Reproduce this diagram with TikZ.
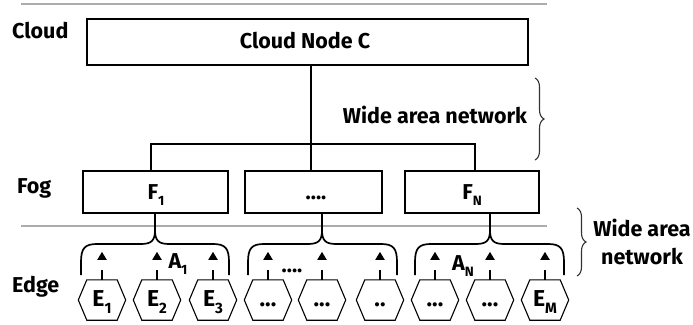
\documentclass[tikz,border=0pt]{standalone}
\usepackage{fontspec}
\setmainfont{Fira Sans}
\usetikzlibrary{arrows.meta,decorations.pathreplacing,calc}
\newcommand{\sbs}[1]{\raisebox{-0.55ex}{\fontsize{13.5}{13.5}\selectfont #1}}
\newcommand{\hsb}[1]{\raisebox{-0.6ex}{\fontsize{15}{15}\selectfont #1}}
\newcommand{\hdthree}{...}
\newcommand{\hdtwo}{..}
\begin{document}
\begin{tikzpicture}[x=1pt,y=-1pt,
  every node/.style={font=\bfseries\fontsize{21.5}{25}\selectfont, inner sep=0pt},
  box/.style={draw, line width=1.8pt},
  wire/.style={line width=1.7pt},
  rule/.style={draw=gray!65, line width=1.1pt},
  hexbox/.style={minimum width=47pt, minimum height=40pt},
  hexline/.style={line width=1.1pt},
  hexlab/.style={anchor=base, font=\bfseries\fontsize{23}{25}\selectfont},
  arr/.style={line width=1.9pt, dash pattern=on 10pt off 10pt, -{Triangle[width=9pt,length=8pt]}},
  brc/.style={draw=black!80, line width=1.1pt, decorate, decoration={brace, amplitude=9pt}},
  lab/.style={anchor=base}]
\useasboundingbox (0,0) rectangle (693,324);
% rules
\coordinate (r1a) at (21,4); \coordinate (r1b) at (547,4);
\coordinate (r2a) at (21,226); \coordinate (r2b) at (547,226);
\draw[rule] (r1a) -- (r1b);
\draw[rule] (r2a) -- (r2b);
% layer labels
\node[anchor=base west] (lcloud) at (12,38) {Cloud};
\node[anchor=base west] (lfog) at (17,193) {Fog};
\node[anchor=base west] (ledge) at (12,292) {Edge};
% cloud
\node[box, minimum width=441pt, minimum height=46pt] (cloud) at (307.5,42) {};
\node[lab] (cloudtxt) at (305,48) {Cloud Node C};
% fog boxes
\node[box, minimum width=145pt, minimum height=42pt] (f1) at (155.5,192) {};
\node[box, minimum width=137pt, minimum height=42pt] (fm) at (313.5,192) {};
\node[box, minimum width=134pt, minimum height=42pt] (fn) at (472,192) {};
\node[lab] (f1t) at (156,199) {F\sbs{1}};
\node[lab] (fmt) at (316,199) {....};
\node[lab] (fnt) at (472,199) {F\sbs{N}};
% bus
\coordinate (busC) at (311,144);
\coordinate (busL) at (151,144);
\coordinate (busR) at (475,144);
\draw[wire] (cloud.south -| busC) -- (fm.north -| busC);
\draw[wire] (f1.north -| busL) -- (busL) -- (busR) -- (fn.north -| busR);
% wide area network 1
\coordinate (b1a) at (535,78); \coordinate (b1b) at (535,160);
\draw[brc] (b1a) -- (b1b);
\node (wan1) at (435,115) {Wide area network};
% wide area network 2
\coordinate (b2a) at (577,208); \coordinate (b2b) at (577,276);
\draw[brc] (b2a) -- (b2b);
\node[align=center, font=\bfseries\fontsize{21.5}{28}\selectfont] (wan2) at (642,242) {Wide area\\network};
% group brackets
\foreach \cx/\lx/\rx/\f in {155/81/229/f1, 322/248/397/fm, 490/415/564/fn}{
  \coordinate (cusp\f) at (\cx,230);
  \draw[wire] (\f.south -| cusp\f) -- (cusp\f);
  \draw[wire] (\lx,275) -- (\lx,262) .. controls (\lx,248) and ({\lx+4},244) .. ({\lx+16},244)
     -- ({\cx-14},244) .. controls ({\cx-3},244) and (\cx,240) .. (cusp\f)
     .. controls (\cx,240) and ({\cx+3},244) .. ({\cx+14},244)
     -- ({\rx-16},244) .. controls ({\rx-4},244) and (\rx,248) .. (\rx,262) -- (\rx,275);
}
% group labels
\node (a1) at (178,264) {A\sbs{1}};
\node[lab] (adots) at (292,272) {....};
\node (an) at (463,266) {A\sbs{N}};
% hexagons
\foreach \n/\x/\t in {h1/102/E\hsb{1}, h2/157/E\hsb{2}, h3/213/E\hsb{3}, h4/268/\hdthree, h5/322/\hdthree, h6/380/\hdtwo, h7/435/\hdthree, h8/490/\hdthree, h9/545/E\hsb{M}}{
  \node[hexbox] (\n) at (\x,300) {};
  \draw[hexline] (\n.west) -- ([xshift=8.5pt]\n.north west) -- ([xshift=-8.5pt]\n.north east) -- (\n.east)
     -- ([xshift=-8.5pt]\n.south east) -- ([xshift=8.5pt]\n.south west) -- cycle;
  \node[hexlab] (\n t) at ([yshift=-6pt]\n.center) {\t};
  \draw[arr] (\n.north) -- ++(0,-28);
}
\end{tikzpicture}
\end{document}
